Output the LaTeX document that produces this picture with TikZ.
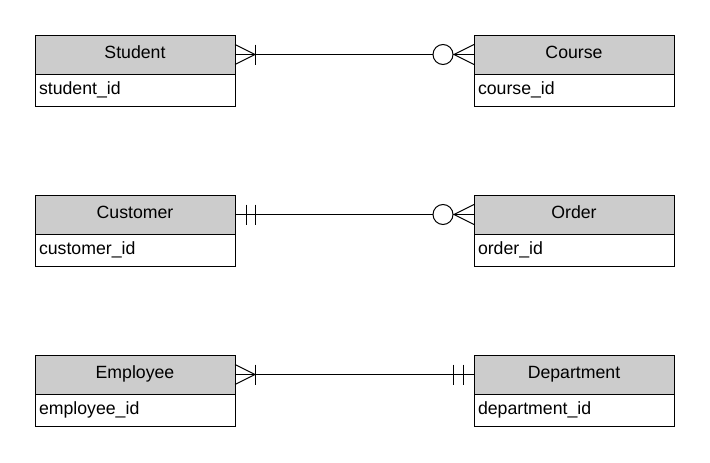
\documentclass[tikz,border=0pt]{standalone}
\usepackage{fontspec}
\setmainfont{Liberation Sans}
\usetikzlibrary{positioning}
\definecolor{hdrgray}{RGB}{204,204,204}

\begin{document}
\begin{tikzpicture}
  [
    x=1pt, y=-1pt,
    every node/.style={font=\fontsize{17.7}{20}\selectfont, outer sep=0pt},
    entity/.style={draw, fill=hdrgray, line width=1pt, minimum width=200pt,
      minimum height=39pt, inner sep=0pt, text depth=5pt, anchor=north west},
    attr/.style={draw, fill=white, line width=1pt, minimum width=200pt,
      minimum height=32pt, inner sep=4pt, text width=192pt, align=left},
    rel/.style={line width=1pt}
  ]
  \fill[white] (0,0) rectangle (710,463);
  \useasboundingbox (0,0) rectangle (710,463);

  % entities
  \node[entity] (student) at (35,35) {Student};
  \node[attr, below=0pt of student] (student_id) {student\_id};
  \node[entity, right=239pt of student] (course) {Course};
  \node[attr, below=0pt of course] (course_id) {course\_id};

  \node[entity, below=89pt of student_id] (customer) {Customer};
  \node[attr, below=0pt of customer] (customer_id) {customer\_id};
  \node[entity, right=239pt of customer] (order) {Order};
  \node[attr, below=0pt of order] (order_id) {order\_id};

  \node[entity, below=89pt of customer_id] (employee) {Employee};
  \node[attr, below=0pt of employee] (employee_id) {employee\_id};
  \node[entity, right=239pt of employee] (department) {Department};
  \node[attr, below=0pt of department] (department_id) {department\_id};

  % Student -- Course: one or many / zero or many
  \draw[rel] (student.east) -- (course.west);
  \draw[rel] ([yshift=10pt]student.east) -- ([xshift=20pt]student.east)
    -- ([yshift=-10pt]student.east);
  \draw[rel] ([xshift=20pt,yshift=10pt]student.east)
    -- ([xshift=20pt,yshift=-10pt]student.east);
  \draw[rel] ([yshift=10pt]course.west) -- ([xshift=-20pt]course.west)
    -- ([yshift=-10pt]course.west);
  \draw[rel, fill=white] ([xshift=-31pt]course.west) circle (10pt);

  % Customer -- Order: exactly one / zero or many
  \draw[rel] (customer.east) -- (order.west);
  \foreach \d in {11,20}
    \draw[rel] ([xshift=\d pt,yshift=10pt]customer.east)
      -- ([xshift=\d pt,yshift=-10pt]customer.east);
  \draw[rel] ([yshift=10pt]order.west) -- ([xshift=-20pt]order.west)
    -- ([yshift=-10pt]order.west);
  \draw[rel, fill=white] ([xshift=-31pt]order.west) circle (10pt);

  % Employee -- Department: one or many / exactly one
  \draw[rel] (employee.east) -- (department.west);
  \draw[rel] ([yshift=10pt]employee.east) -- ([xshift=20pt]employee.east)
    -- ([yshift=-10pt]employee.east);
  \draw[rel] ([xshift=20pt,yshift=10pt]employee.east)
    -- ([xshift=20pt,yshift=-10pt]employee.east);
  \foreach \d in {11,21}
    \draw[rel] ([xshift=-\d pt,yshift=10pt]department.west)
      -- ([xshift=-\d pt,yshift=-10pt]department.west);
\end{tikzpicture}
\end{document}
